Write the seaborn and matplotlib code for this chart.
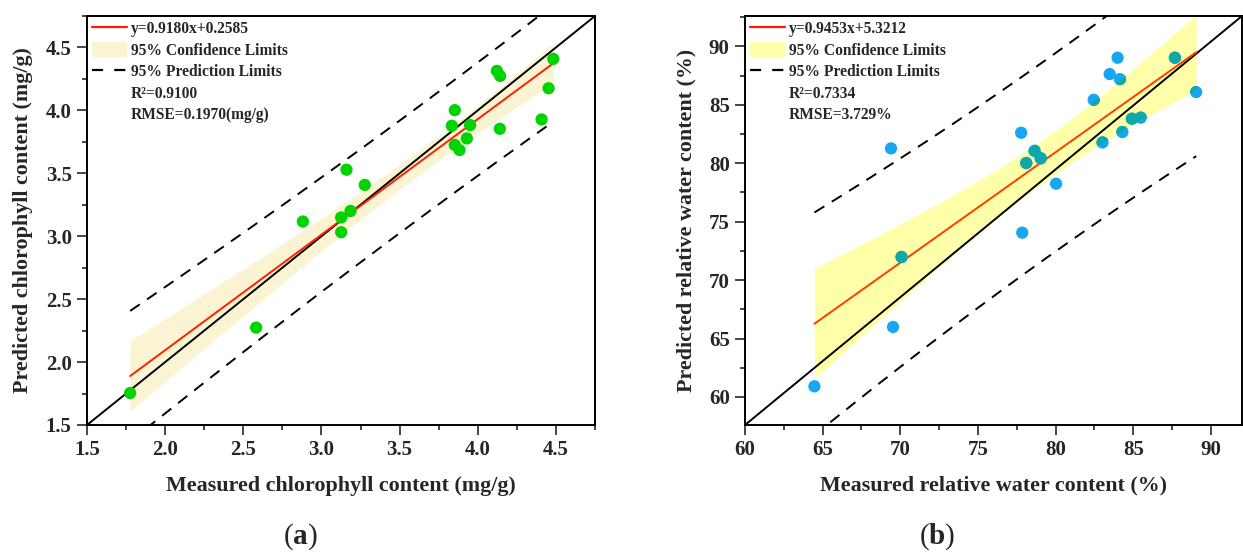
import numpy as np
import matplotlib
matplotlib.use("Agg")
import matplotlib.pyplot as plt
import seaborn as sns
from matplotlib.lines import Line2D
from matplotlib.patches import Patch
from matplotlib.ticker import MultipleLocator, FormatStrFormatter

# ---------------- data ----------------
chl_measured = [1.776, 2.582, 2.881, 3.126, 3.126, 3.186, 3.160, 3.277, 3.834, 3.853,
                3.853, 3.883, 3.930, 3.951, 4.122, 4.143, 4.141, 4.408, 4.453, 4.483]
chl_predicted = [1.754, 2.274, 3.117, 3.149, 3.032, 3.201, 3.529, 3.408, 3.878, 4.002,
                 3.725, 3.685, 3.777, 3.883, 4.314, 4.274, 3.854, 3.928, 4.176, 4.409]
chl_fit = (0.9180, 0.2585)
chl_r2 = "0.9100"
chl_rmse = "0.1970(mg/g)"

rwc_measured = [64.47, 69.40, 69.53, 70.08, 77.78, 77.85, 78.11, 78.64, 79.04, 80.03,
                82.45, 83.02, 83.48, 83.99, 84.14, 84.30, 84.91, 85.48, 87.68, 89.05]
rwc_predicted = [60.91, 81.27, 65.99, 71.98, 82.61, 74.06, 80.02, 81.07, 80.42, 78.25,
                 85.43, 81.78, 87.63, 89.03, 87.20, 82.67, 83.81, 83.90, 89.03, 86.09]
rwc_fit = (0.9453, 5.3212)
rwc_r2 = "0.7334"
rwc_rmse = "3.729%"

T_975_DF18 = 2.10092  # Student t quantile, 95% two-sided, 18 dof

# ---------------- style ----------------
sns.set_theme(style="ticks")
plt.rcParams["font.family"] = ["Liberation Serif", "DejaVu Serif"]
plt.rcParams["font.weight"] = "bold"
plt.rcParams["axes.labelweight"] = "bold"
plt.rcParams["mathtext.fontset"] = "custom"
plt.rcParams["mathtext.rm"] = "Liberation Serif"
plt.rcParams["mathtext.bf"] = "Liberation Serif:bold"

W, H = 1243, 553
fig = plt.figure(figsize=(W / 100, H / 100), dpi=100)


def rect(l, r, t, b):
    return [l / W, 1 - b / H, (r - l) / W, (b - t) / H]


def bands(x, y, slope, icpt, grid):
    x = np.asarray(x); y = np.asarray(y)
    n = len(x)
    res = y - (slope * x + icpt)
    s = np.sqrt(np.sum(res ** 2) / (n - 2))
    sxx = np.sum((x - x.mean()) ** 2)
    fit = slope * grid + icpt
    se_c = s * np.sqrt(1 / n + (grid - x.mean()) ** 2 / sxx)
    se_p = s * np.sqrt(1 + 1 / n + (grid - x.mean()) ** 2 / sxx)
    return fit, T_975_DF18 * se_c, T_975_DF18 * se_p


def panel(ax, xs, ys, fit, r2, rmse, lims_x, lims_y, major, minor,
          band_col, pt_col, overlay_col, line_col, xlabel, ylabel, fmt):
    slope, icpt = fit
    grid = np.linspace(min(xs), max(xs), 300)
    yfit, ci, pi = bands(xs, ys, slope, icpt, grid)
    band = ax.fill_between(grid, yfit - ci, yfit + ci, color=band_col, lw=0, zorder=1)
    # diagonal reference line of the plot box
    ax.plot([0, 1], [0, 1], transform=ax.transAxes, color="black", lw=1.4, zorder=2)
    ax.plot(grid, yfit, color=line_col, lw=1.4, zorder=3)
    for sign in (1, -1):
        ax.plot(grid, yfit + sign * pi, color="black", lw=1.4, ls=(0, (6, 4.5)), zorder=3)
    sns.scatterplot(x=xs, y=ys, ax=ax, color=pt_col, s=78, edgecolor="none",
                    linewidth=0, zorder=4, legend=False)
    if overlay_col is not None:
        sns.scatterplot(x=xs, y=ys, ax=ax, color=overlay_col, s=78, edgecolor="none",
                        linewidth=0, zorder=5, legend=False)
        coll = ax.collections[-1]
        coll.set_clip_path(band.get_paths()[0], band.get_transform())
    ax.set_xlim(*lims_x)
    ax.set_ylim(*lims_y)
    for axis in (ax.xaxis, ax.yaxis):
        axis.set_major_locator(MultipleLocator(major))
        axis.set_minor_locator(MultipleLocator(minor))
        axis.set_major_formatter(FormatStrFormatter(fmt))
    ax.tick_params(which="major", direction="out", length=7, width=1.2,
                   labelsize=15, pad=4)
    ax.tick_params(which="minor", direction="out", length=3.5, width=1.2)
    for lab in ax.get_xticklabels() + ax.get_yticklabels():
        lab.set_fontweight("bold")
    for sp in ax.spines.values():
        sp.set_visible(True)
        sp.set_linewidth(1.4)
        sp.set_color("black")
    ax.set_xlabel(xlabel, fontsize=15.8, fontweight="bold", labelpad=11)
    ax.set_ylabel(ylabel, fontsize=15.8, fontweight="bold", labelpad=9)

    handles = [
        Line2D([], [], color="#FF1A00", lw=1.6),
        Patch(facecolor=band_col, edgecolor="none"),
        Line2D([], [], color="black", lw=1.6, ls=(0, (5, 5))),
        Line2D([], [], color="none"),
        Line2D([], [], color="none"),
    ]
    labels = [f"y={slope:.4f}x+{icpt:.4f}", "95% Confidence Limits",
              "95% Prediction Limits", f"R\u00b2={r2}", f"RMSE={rmse}"]
    leg = ax.legend(handles, labels, loc="upper left", frameon=False,
                    prop={"family": "Liberation Serif", "weight": "bold", "size": 11.2},
                    handlelength=2.3, handleheight=1.1, handletextpad=0.2,
                    labelspacing=0.3, borderaxespad=0.2, borderpad=0.1)
    leg.set_zorder(10)


axA = fig.add_axes(rect(87, 595, 16, 425))
axB = fig.add_axes(rect(745, 1242, 16, 425))

panel(axA, chl_measured, chl_predicted, chl_fit, chl_r2, chl_rmse,
      (1.5, 4.75), (1.5, 4.75), 0.5, 0.25, "#FAF4D2", "#00D400", None, "#FF2000",
      "Measured chlorophyll content (mg/g)", "Predicted chlorophyll content (mg/g)", "%.1f")
panel(axB, rwc_measured, rwc_predicted, rwc_fit, rwc_r2, rwc_rmse,
      (60, 92), (57.6, 92.6), 5, 2.5, "#FFFFAA", "#16A6F2", "#10A8A6", "#FF3C00",
      "Measured relative water content (%)", "Predicted relative water content (%)", "%d")

fig.text(300 / W, 1 - 537 / H, r"($\mathbf{a}$)", fontsize=21, fontweight="normal",
         ha="center", va="center")
fig.text(937 / W, 1 - 537 / H, r"($\mathbf{b}$)", fontsize=21, fontweight="normal",
         ha="center", va="center")

fig.savefig("out.png", dpi=100)
